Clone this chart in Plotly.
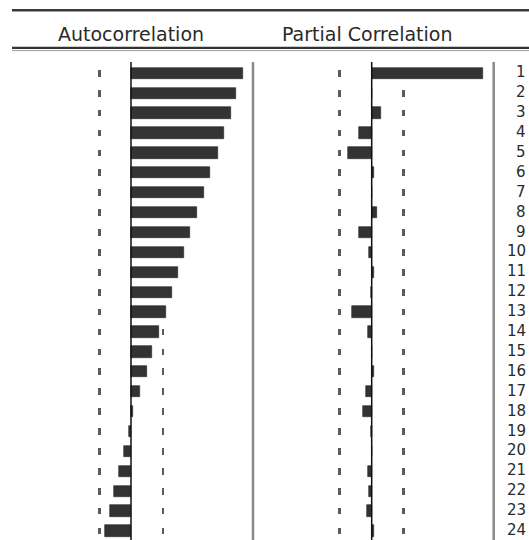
import plotly.graph_objects as go

# Correlogram: lags 1..24, autocorrelation and partial autocorrelation
lags = list(range(1, 25))
lag_labels = [str(k) for k in lags]
acf = [0.916, 0.861, 0.817, 0.765, 0.711, 0.648, 0.598, 0.543, 0.484, 0.434,
       0.388, 0.334, 0.287, 0.230, 0.175, 0.129, 0.074, 0.019, -0.014, -0.055,
       -0.098, -0.137, -0.172, -0.213]
pac = [0.916, 0.002, 0.076, -0.102, -0.192, 0.019, 0.004, 0.041, -0.102, -0.020,
       0.021, -0.004, -0.164, -0.028, 0.003, 0.021, -0.049, -0.069, -0.003, 0.002,
       -0.033, -0.020, -0.035, 0.021]
band = 0.262          # approx. 2/sqrt(n) confidence bound
headers = ["Autocorrelation", "Partial Correlation"]

W, H = 529, 540
PX_PER_UNIT = 122.0
ROW1_PX, ROW_PITCH = 73.3, 19.9
ACF_ZERO_PX, PAC_ZERO_PX = 131.0, 371.7

BAR_COLOR = "#333333"
DASH_COLOR = "#5a5a5a"
FONT = "DejaVu Sans"


def row_at(px):
    return 1 + (px - ROW1_PX) / ROW_PITCH


def xrange_for(zero_px):
    return [-zero_px / PX_PER_UNIT, (W - zero_px) / PX_PER_UNIT]


fig = go.Figure()

for xa, vals in (("x", acf), ("x2", pac)):
    # confidence band dashes (one per lag), drawn first so the bars cover them
    for sign in (-1, 1):
        fig.add_trace(go.Bar(
            y=lags, x=[0.024] * len(lags), base=[sign * band - 0.012] * len(lags),
            orientation="h", width=0.34, marker=dict(color=DASH_COLOR, line=dict(width=0)),
            xaxis=xa, yaxis="y", hoverinfo="skip", showlegend=False))
    fig.add_trace(go.Bar(
        y=lags, x=vals, orientation="h", width=0.57,
        marker=dict(color=BAR_COLOR, line=dict(color="#222222", width=0.6)),
        xaxis=xa, yaxis="y", showlegend=False))

shapes = []
y_top_line, y_bottom = row_at(62), row_at(H + 2)
for xa in ("x", "x2"):
    # zero axis and right-hand panel border
    shapes.append(dict(type="line", xref=xa, yref="y", x0=0, x1=0, y0=y_top_line, y1=y_bottom,
                       line=dict(color="#111111", width=1.5), layer="above"))
    shapes.append(dict(type="line", xref=xa, yref="y", x0=1.0, x1=1.0, y0=y_top_line, y1=y_bottom,
                       line=dict(color="#8a8a8a", width=2.5), layer="above"))

# header rules
def hline(ypx, color, width):
    return dict(type="line", xref="paper", yref="paper", x0=12 / W, x1=1.0,
                y0=1 - ypx / H, y1=1 - ypx / H, line=dict(color=color, width=width))

shapes += [hline(10.3, "#3a3a3a", 2.5), hline(47.8, "#333333", 2.2), hline(50.6, "#9a9a9a", 1)]

annotations = []
for text, cx in zip(headers, (130.5, 367.0)):
    annotations.append(dict(text=text, xref="paper", yref="paper", x=cx / W, y=1 - 34 / H,
                            xanchor="center", yanchor="middle", showarrow=False,
                            font=dict(family=FONT, size=19, color="#2a2a2a")))
for k, lab in zip(lags, lag_labels):
    annotations.append(dict(text=lab, xref="paper", yref="y", x=527 / W, y=k,
                            xanchor="right", yanchor="middle", showarrow=False,
                            yshift=1, borderpad=0,
                            font=dict(family=FONT, size=15, color="#2a2a2a")))

fig.update_layout(
    width=W, height=H, margin=dict(l=0, r=0, t=0, b=0),
    paper_bgcolor="white", plot_bgcolor="white",
    barmode="overlay", bargap=0,
    xaxis=dict(range=xrange_for(ACF_ZERO_PX), visible=False, fixedrange=True),
    xaxis2=dict(range=xrange_for(PAC_ZERO_PX), overlaying="x", visible=False, fixedrange=True),
    yaxis=dict(range=[row_at(H), row_at(0)], visible=False, fixedrange=True),
    shapes=shapes, annotations=annotations,
)

fig.write_html("out.html")
